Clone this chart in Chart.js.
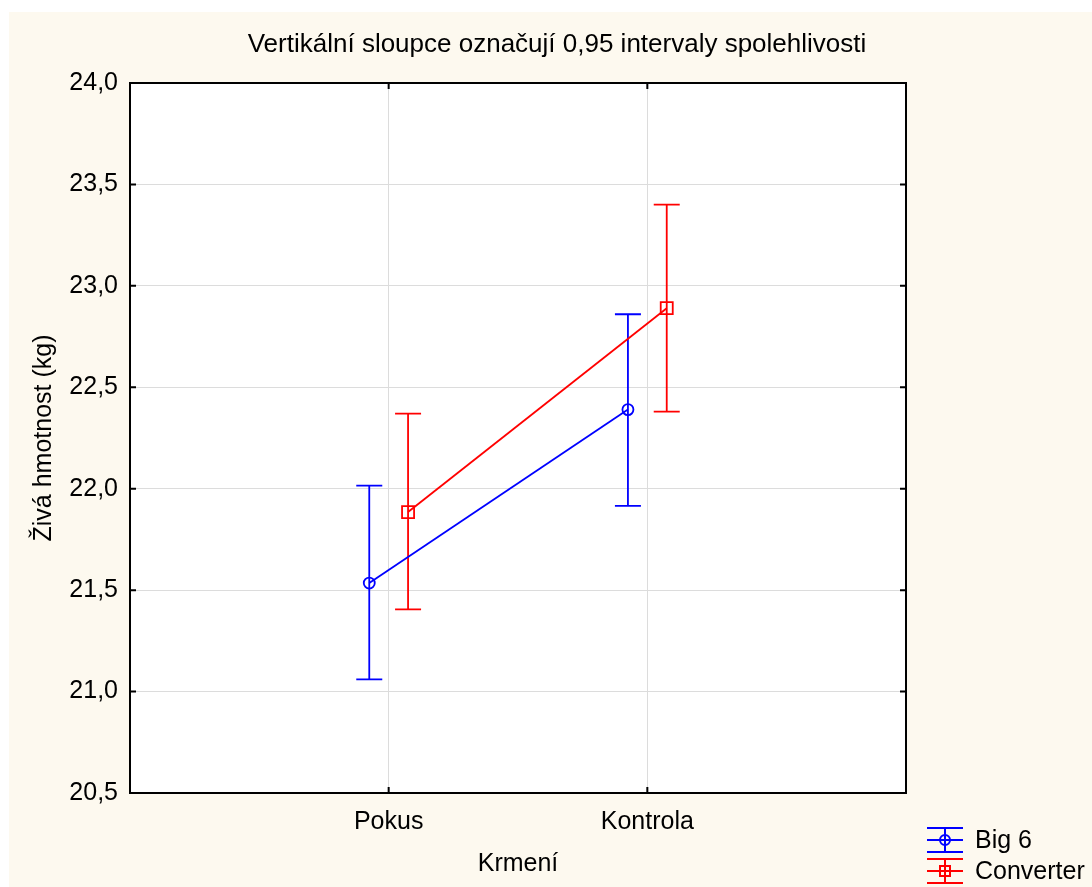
<!DOCTYPE html>
<html>
<head>
<meta charset="utf-8">
<script src="https://cdn.jsdelivr.net/npm/chart.js@4/dist/chart.umd.min.js"></script>
<style>
  html, body { margin: 0; padding: 0; background: #ffffff; }
  canvas { display: block; }
</style>
</head>
<body>
<canvas id="c" width="1092" height="887"></canvas>
<script>
// ---- data ----
const categories = ['Pokus', 'Kontrola'];
const seriesNames = ['Big 6', 'Converter'];
const big6Mean  = [21.535, 22.39];
const big6Lower = [21.06, 21.915];
const big6Upper = [22.015, 22.86];
const convMean  = [21.885, 22.89];
const convLower = [21.405, 22.38];
const convUpper = [22.37, 23.40];
const yTicks = [20.5, 21.0, 21.5, 22.0, 22.5, 23.0, 23.5, 24.0];
const titleText = 'Vertikální sloupce označují 0,95 intervaly spolehlivosti';
const xTitle = 'Krmení';
const yTitle = 'Živá hmotnost (kg)';

const FONT = "'Liberation Sans', Arial, sans-serif";
const BLUE = '#0000ff', RED = '#ff0000';
const OFFSET = 0.075;

function pts(means, off) {
  return means.map((m, i) => ({ x: i + 1 + off, y: m }));
}

const bgPlugin = {
  id: 'bg',
  beforeDraw(chart) {
    const ctx = chart.ctx, ca = chart.chartArea;
    ctx.save();
    ctx.fillStyle = '#fdf9ef';
    ctx.fillRect(9, 12, chart.width - 9, chart.height - 12);
    ctx.fillStyle = '#ffffff';
    ctx.fillRect(ca.left, ca.top, ca.right - ca.left, ca.bottom - ca.top);
    ctx.restore();
  }
};

const errPlugin = {
  id: 'errbars',
  beforeDatasetsDraw(chart) {
    const ctx = chart.ctx, ys = chart.scales.y, xs = chart.scales.x;
    chart.data.datasets.forEach((ds) => {
      ctx.save();
      ctx.strokeStyle = ds.borderColor;
      ctx.lineWidth = 1.8;
      ds.data.forEach((p, i) => {
        const x = xs.getPixelForValue(p.x);
        const yl = ys.getPixelForValue(ds.lower[i]);
        const yu = ys.getPixelForValue(ds.upper[i]);
        ctx.beginPath();
        ctx.moveTo(x, yl); ctx.lineTo(x, yu);
        ctx.moveTo(x - 13, yl); ctx.lineTo(x + 13, yl);
        ctx.moveTo(x - 13, yu); ctx.lineTo(x + 13, yu);
        ctx.stroke();
      });
      ctx.restore();
    });
  }
};

const framePlugin = {
  id: 'frame',
  afterDraw(chart) {
    const ctx = chart.ctx, ca = chart.chartArea, ys = chart.scales.y, xs = chart.scales.x;
    ctx.save();
    ctx.strokeStyle = '#000';
    ctx.lineWidth = 2;
    ctx.beginPath();
    ys.ticks.forEach(t => {
      const y = ys.getPixelForValue(t.value);
      ctx.moveTo(ca.left, y); ctx.lineTo(ca.left + 6, y);
      ctx.moveTo(ca.right, y); ctx.lineTo(ca.right - 6, y);
    });
    xs.ticks.forEach(t => {
      const x = xs.getPixelForValue(t.value);
      ctx.moveTo(x, ca.bottom); ctx.lineTo(x, ca.bottom - 6);
      ctx.moveTo(x, ca.top); ctx.lineTo(x, ca.top + 6);
    });
    ctx.stroke();
    ctx.strokeRect(ca.left, ca.top, ca.right - ca.left, ca.bottom - ca.top);

    // legend
    const items = chart.data.datasets;
    const lx = 927, lw = 36, cx = lx + lw / 2;
    const rows = [840, 871];
    ctx.font = '25px ' + FONT;
    ctx.textBaseline = 'middle';
    ctx.textAlign = 'left';
    items.forEach((ds, k) => {
      const cy = rows[k];
      ctx.strokeStyle = ds.borderColor;
      ctx.lineWidth = 2;
      ctx.beginPath();
      ctx.moveTo(lx, cy - 12); ctx.lineTo(lx + lw, cy - 12);
      ctx.moveTo(lx, cy); ctx.lineTo(lx + lw, cy);
      ctx.moveTo(lx, cy + 12); ctx.lineTo(lx + lw, cy + 12);
      ctx.moveTo(cx, cy - 12); ctx.lineTo(cx, cy + 12);
      ctx.stroke();
      ctx.beginPath();
      if (ds.pointStyle === 'circle') {
        ctx.arc(cx, cy, 5, 0, Math.PI * 2);
      } else {
        ctx.rect(cx - 5, cy - 5, 10, 10);
      }
      ctx.stroke();
      ctx.fillStyle = '#000';
      ctx.fillText(ds.label, 975, cy + 1);
    });
    ctx.restore();
  }
};

new Chart(document.getElementById('c'), {
  type: 'line',
  data: {
    datasets: [
      {
        label: seriesNames[0],
        data: pts(big6Mean, -OFFSET),
        lower: big6Lower, upper: big6Upper,
        borderColor: BLUE, backgroundColor: 'rgba(0,0,0,0)',
        borderWidth: 1.8, pointStyle: 'circle', pointRadius: 5.5,
        pointBorderWidth: 1.8, pointHoverRadius: 5.5
      },
      {
        label: seriesNames[1],
        data: pts(convMean, OFFSET),
        lower: convLower, upper: convUpper,
        borderColor: RED, backgroundColor: 'rgba(0,0,0,0)',
        borderWidth: 1.8, pointStyle: 'rect', pointRadius: 8.5,
        pointBorderWidth: 1.8, pointHoverRadius: 8.5
      }
    ]
  },
  options: {
    responsive: false,
    animation: false,
    devicePixelRatio: 1,
    layout: { padding: { left: 22, top: 0, right: 0, bottom: 0 } },
    plugins: {
      legend: { display: false },
      tooltip: { enabled: false },
      title: {
        display: true,
        text: titleText,
        color: '#000',
        font: { family: FONT, size: 26, weight: 'normal', lineHeight: 1.2 },
        padding: { top: 29, bottom: 22.8 }
      }
    },
    scales: {
      x: {
        type: 'linear',
        min: 0, max: 3,
        afterBuildTicks(scale) {
          scale.ticks = categories.map((c, i) => ({ value: i + 1 }));
        },
        afterFit(scale) { scale.height = 94; },
        ticks: {
          color: '#000',
          font: { family: FONT, size: 25 },
          padding: 14,
          maxRotation: 0,
          callback: (v) => categories[Math.round(v) - 1] || ''
        },
        grid: { color: '#dcdcdc', lineWidth: 1, drawTicks: false },
        border: { display: false },
        title: {
          display: true, text: xTitle, color: '#000',
          font: { family: FONT, size: 25, lineHeight: 1.2 },
          padding: { top: 0, bottom: 8 }
        }
      },
      y: {
        type: 'linear',
        min: 20.5, max: 24,
        afterBuildTicks(scale) {
          scale.ticks = yTicks.map(v => ({ value: v }));
        },
        afterFit(scale) { scale.width = 108; },
        ticks: {
          color: '#000',
          font: { family: FONT, size: 25 },
          padding: 12,
          callback: (v) => v.toFixed(1).replace('.', ',')
        },
        grid: { color: '#dcdcdc', lineWidth: 1, drawTicks: false },
        border: { display: false },
        title: {
          display: true, text: yTitle, color: '#000',
          font: { family: FONT, size: 25, lineHeight: 1.2 },
          padding: { top: 7, bottom: 0 }
        }
      },
      yRight: {
        type: 'linear',
        position: 'right',
        min: 20.5, max: 24,
        afterFit(scale) { scale.width = 186; },
        ticks: { display: false },
        grid: { display: false, drawTicks: false },
        border: { display: false },
        title: { display: false }
      }
    }
  },
  plugins: [bgPlugin, errPlugin, framePlugin]
});
</script>
</body>
</html>
